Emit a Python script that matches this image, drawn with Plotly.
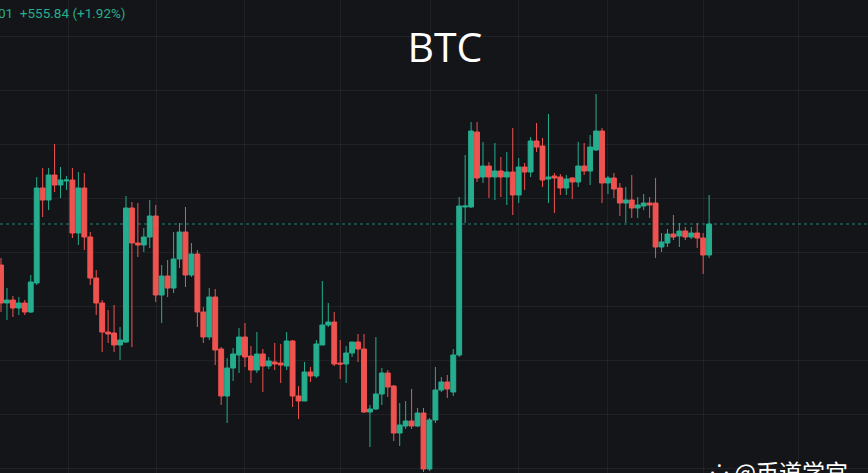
import plotly.graph_objects as go

# candle index (hourly bars)
bars = list(range(120))

opens = [29275,29085,29100,29060,29085,29040,29185,29660,29600,29725,
         29675,29695,29700,29435,29660,29415,29210,29085,28940,28935,
         28875,28890,29560,29385,29375,29415,29520,29125,29220,29160,
         29305,29440,29225,29330,29040,28915,29115,28855,28620,28760,
         28825,28915,28820,28750,28830,28770,28790,28785,28770,28895,
         28620,28595,28740,28720,28875,28975,28990,28785,28780,28835,
         28890,28855,28540,28555,28630,28735,28670,28435,28470,28495,
         28470,28535,28255,28500,28650,28690,28640,28825,29565,29565,
         29940,29715,29770,29715,29745,29715,29740,29625,29765,29740,
         29895,29870,29705,29720,29715,29660,29710,29690,29770,29745,
         29850,29945,29685,29710,29660,29585,29600,29560,29570,29585,
         29585,29365,29385,29430,29420,29445,29415,29435,29410,29325]

highs = [29310,29160,29120,29115,29100,29225,29715,29760,29760,29880,
         29765,29720,29760,29740,29735,29440,29250,29100,29050,29075,
         28965,29620,29590,29585,29460,29600,29575,29275,29300,29440,
         29485,29565,29385,29350,29065,29160,29155,28865,28810,28860,
         28960,28985,28870,28940,28855,28815,28885,28880,28940,28900,
         28670,28790,28765,28900,29195,29085,29040,28900,28870,28890,
         28930,28930,28575,28915,28760,28750,28675,28585,28595,28655,
         28560,28560,28510,28765,28715,28725,28855,29615,29825,29990,
         29990,29890,29790,29885,29815,29840,29960,29810,29785,29915,
         29985,29910,30030,29735,29730,29725,29715,29890,29885,29925,
         30130,29960,29720,29735,29685,29665,29725,29615,29630,29615,
         29710,29435,29455,29525,29485,29465,29465,29485,29435,29625]

lows = [29040,29000,29015,29025,29025,29035,29175,29515,29550,29640,
        29610,29650,29410,29375,29350,29175,29025,28840,28885,28840,
        28800,28885,28865,29315,29340,29360,29090,28985,29115,29135,
        29260,29165,29215,28965,28885,28900,28775,28575,28485,28695,
        28735,28765,28685,28735,28640,28755,28750,28685,28750,28565,
        28505,28595,28690,28710,28875,28965,28770,28705,28685,28815,
        28790,28535,28365,28550,28575,28615,28395,28370,28455,28455,
        28465,28240,28245,28485,28640,28610,28620,28815,29485,29560,
        29690,29685,29610,29600,29615,29575,29525,29585,29650,29715,
        29840,29665,29585,29535,29625,29625,29605,29665,29725,29675,
        29845,29585,29630,29610,29520,29485,29510,29510,29550,29510,
        29310,29340,29365,29400,29365,29400,29405,29360,29230,29310]

closes = [29085,29100,29060,29085,29040,29190,29660,29600,29725,29675,
          29700,29700,29435,29660,29415,29210,29085,28940,28930,28875,
          28900,29560,29385,29375,29415,29520,29125,29220,29160,29305,
          29440,29225,29330,29040,28915,29115,28850,28620,28760,28830,
          28915,28815,28750,28830,28770,28795,28780,28775,28895,28620,
          28595,28740,28720,28880,28975,28990,28780,28780,28835,28890,
          28855,28540,28555,28630,28735,28665,28435,28475,28495,28470,
          28535,28255,28500,28650,28690,28655,28825,29570,29570,29945,
          29710,29770,29715,29745,29715,29740,29625,29765,29740,29895,
          29865,29700,29715,29710,29660,29705,29690,29770,29745,29865,
          29945,29685,29710,29655,29585,29600,29560,29575,29585,29575,
          29365,29390,29430,29415,29445,29415,29435,29410,29325,29480]

# grid positions
grid_prices = [30420, 30150, 29880, 29610, 29340, 29070, 28800, 28530, 28260]
grid_bars = [11.3, 26.2, 41.0, 57.0, 72.1, 86.9, 102.0, 118.0, 134.0]

title_text = "BTC"
change_text = "01  +555.84 (+1.92%)"
watermark_text = "⁘ @币道学宫"

UP = "#25ad8e"
DOWN = "#ef5350"
BG = "#141519"

fig = go.Figure(go.Candlestick(
    x=bars, open=opens, high=highs, low=lows, close=closes,
    increasing=dict(line=dict(color=UP, width=1), fillcolor=UP),
    decreasing=dict(line=dict(color=DOWN, width=1), fillcolor=DOWN),
    whiskerwidth=0,
    hoverinfo="skip",
))

fig.add_shape(type="line", xref="paper", x0=0, x1=1, yref="y",
              y0=closes[-1], y1=closes[-1],
              line=dict(color="rgba(38,166,154,0.75)", width=1, dash="dot"),
              layer="below")

fig.update_layout(
    width=868, height=473,
    margin=dict(l=0, r=0, t=0, b=0),
    paper_bgcolor=BG, plot_bgcolor=BG,
    showlegend=False,
    boxgap=0.18, boxgroupgap=0,
    title=dict(text=title_text, x=0.5125, xanchor="center", y=0.9,
               yanchor="middle", yref="container",
               font=dict(family="Open Sans", size=41, color="#ffffff")),
    xaxis=dict(range=[-0.17, 145.7], rangeslider=dict(visible=False),
               tickmode="array", tickvals=grid_bars, showticklabels=False,
               showgrid=True, gridcolor="rgba(255,255,255,0.055)", gridwidth=1,
               zeroline=False, showline=False, ticks=""),
    yaxis=dict(range=[28235, 30600], tickmode="array", tickvals=grid_prices,
               showticklabels=False, showgrid=True,
               gridcolor="rgba(255,255,255,0.055)", gridwidth=1,
               zeroline=False, showline=False, ticks=""),
    annotations=[
        dict(text=change_text, xref="paper", yref="paper", x=0, y=1,
             xanchor="left", yanchor="middle", xshift=-4, yshift=-13,
             showarrow=False,
             font=dict(family="Roboto", size=13.5, color=UP)),
        dict(text=watermark_text, xref="paper", yref="paper", x=0, y=0,
             xanchor="left", yanchor="middle", xshift=708, yshift=2,
             showarrow=False,
             font=dict(family="Noto Sans CJK SC", size=23, color="#ffffff")),
    ],
)

fig.write_html(
    "out.html",
    config={"displayModeBar": False},
    post_script="document.body.style.margin='0';document.body.style.background='#141519';",
)
